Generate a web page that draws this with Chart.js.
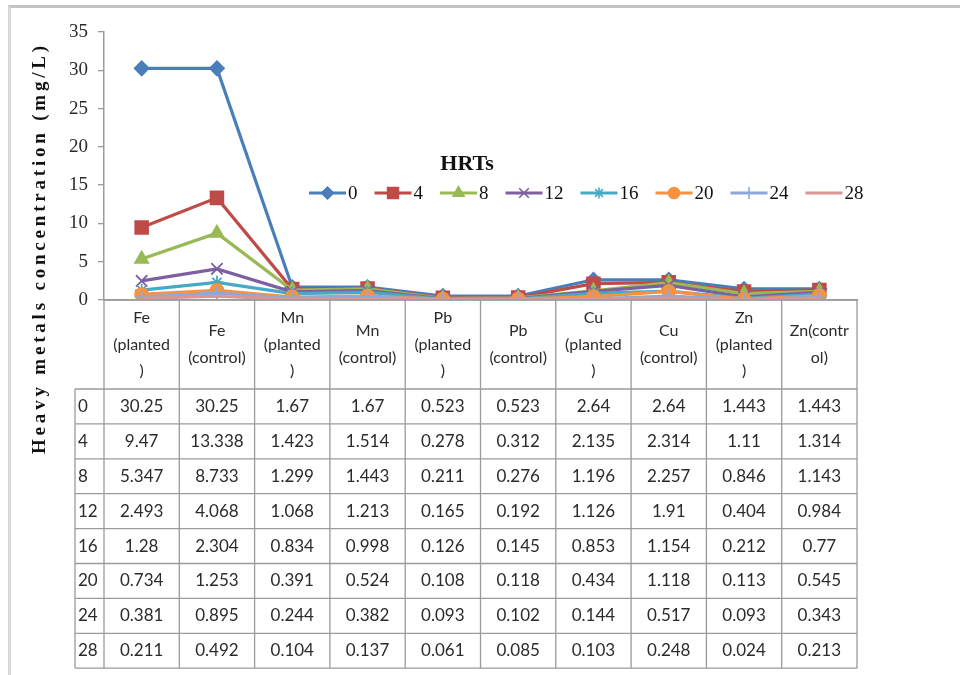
<!DOCTYPE html>
<html>
<head>
<meta charset="utf-8">
<script src="https://cdn.jsdelivr.net/npm/chart.js@4.4.0/dist/chart.umd.min.js"></script>
<style>
  html, body { margin: 0; padding: 0; background: #fff; }
  #wrap  { position: relative; width: 960px; height: 675px; overflow: hidden; }
  #frame { position: absolute; left: 8px; top: 5px; right: -10px; bottom: -10px;
           border-top: 3px solid #c4c4c4; border-left: 3px solid #d8d8d8; }
  canvas { position: absolute; left: 0; top: 0; }
</style>
</head>
<body>
<div id="wrap">
  <div id="frame"></div>
  <canvas id="chart" width="960" height="675"></canvas>
</div>
<script>
// categories (header cells of the data table, already wrapped like the original)
const CATEGORIES = [
  ['Fe', '(planted', ')'], ['Fe', '(control)'],
  ['Mn', '(planted', ')'], ['Mn', '(control)'],
  ['Pb', '(planted', ')'], ['Pb', '(control)'],
  ['Cu', '(planted', ')'], ['Cu', '(control)'],
  ['Zn', '(planted', ')'], ['Zn(contr', 'ol)'],
];
const HRT_LABELS = ['0', '4', '8', '12', '16', '20', '24', '28'];

const HRT_0  = [30.25, 30.25, 1.67, 1.67, 0.523, 0.523, 2.64, 2.64, 1.443, 1.443];
const HRT_4  = [9.47, 13.338, 1.423, 1.514, 0.278, 0.312, 2.135, 2.314, 1.11, 1.314];
const HRT_8  = [5.347, 8.733, 1.299, 1.443, 0.211, 0.276, 1.196, 2.257, 0.846, 1.143];
const HRT_12 = [2.493, 4.068, 1.068, 1.213, 0.165, 0.192, 1.126, 1.91, 0.404, 0.984];
const HRT_16 = [1.28, 2.304, 0.834, 0.998, 0.126, 0.145, 0.853, 1.154, 0.212, 0.77];
const HRT_20 = [0.734, 1.253, 0.391, 0.524, 0.108, 0.118, 0.434, 1.118, 0.113, 0.545];
const HRT_24 = [0.381, 0.895, 0.244, 0.382, 0.093, 0.102, 0.144, 0.517, 0.093, 0.343];
const HRT_28 = [0.211, 0.492, 0.104, 0.137, 0.061, 0.085, 0.103, 0.248, 0.024, 0.213];

const Y_MIN = 0, Y_MAX = 35, Y_STEP = 5;

const SERIES  = [HRT_0, HRT_4, HRT_8, HRT_12, HRT_16, HRT_20, HRT_24, HRT_28];
const COLORS  = ['#4A7EBB', '#BE4B48', '#98B954', '#7D60A0', '#46AAC5', '#F69240', '#8FA8DC', '#DA9694'];
const MARKERS = ['rectRot', 'rect', 'triangle', 'crossRot', 'star', 'circle', 'cross', false];
const RADII   = [7, 9, 7.5, 8, 6.5, 6.5, 7, 0];

const SERIF = "'Liberation Serif', 'Times New Roman', serif";
const TABLE_FONT = "Lato, 'Liberation Sans', sans-serif";
const TEXT = '#2b2b2b';
const LINE = '#9a9a9a';

// data table under the plot, columns follow the category scale
const tablePlugin = {
  id: 'dataTable',
  afterDraw(chart) {
    const { ctx, chartArea } = chart;
    const x = chart.scales.x;
    const colW = x.getPixelForValue(1) - x.getPixelForValue(0);
    const edge = i => x.getPixelForValue(0) - colW / 2 + i * colW;
    const top = chartArea.bottom;
    const headBottom = 389;
    const rowH = 34.9;
    const bottom = headBottom + rowH * HRT_LABELS.length;
    const labelLeft = 75;

    ctx.save();
    ctx.strokeStyle = LINE;
    ctx.lineWidth = 1.3;
    ctx.beginPath();
    for (let i = 0; i <= CATEGORIES.length; i++) {
      ctx.moveTo(edge(i), top);
      ctx.lineTo(edge(i), bottom);
    }
    ctx.moveTo(labelLeft, headBottom);
    ctx.lineTo(labelLeft, bottom);
    ctx.moveTo(edge(0), top);
    ctx.lineTo(edge(CATEGORIES.length), top);
    for (let r = 0; r <= HRT_LABELS.length; r++) {
      const y = headBottom + r * rowH;
      ctx.moveTo(labelLeft, y);
      ctx.lineTo(edge(CATEGORIES.length), y);
    }
    ctx.stroke();

    ctx.fillStyle = TEXT;
    ctx.font = '16px ' + TABLE_FONT;
    ctx.textBaseline = 'middle';
    ctx.textAlign = 'center';
    const headMid = (top + headBottom) / 2;
    const lh = 26.5;
    CATEGORIES.forEach((lines, i) => {
      const cx = x.getPixelForValue(i);
      lines.forEach((t, k) => {
        ctx.fillText(t, cx, headMid + (k - (lines.length - 1) / 2) * lh);
      });
    });

    ctx.font = '17px ' + TABLE_FONT;
    SERIES.forEach((vals, r) => {
      const cy = headBottom + (r + 0.5) * rowH;
      ctx.textAlign = 'left';
      ctx.fillText(HRT_LABELS[r], labelLeft + 3, cy);
      ctx.textAlign = 'center';
      vals.forEach((v, c) => ctx.fillText(String(v), x.getPixelForValue(c), cy));
    });
    ctx.restore();
  },
};

// legend with line + marker samples, and the rotated axis title
const decorPlugin = {
  id: 'decor',
  afterDraw(chart) {
    const { ctx } = chart;
    ctx.save();

    ctx.fillStyle = '#111';
    ctx.font = 'bold 22px ' + SERIF;
    ctx.textAlign = 'center';
    ctx.textBaseline = 'middle';
    ctx.fillText('HRTs', 467, 164);

    ctx.font = '19px ' + SERIF;
    ctx.textAlign = 'left';
    let lx = 309;
    const ly = 193;
    chart.data.datasets.forEach((ds, i) => {
      ctx.strokeStyle = ds.borderColor;
      ctx.lineWidth = 3.2;
      ctx.beginPath();
      ctx.moveTo(lx, ly);
      ctx.lineTo(lx + 37, ly);
      ctx.stroke();
      if (ds.pointStyle) {
        ctx.fillStyle = ds.borderColor;
        ctx.strokeStyle = ds.borderColor;
        ctx.lineWidth = 1.6;
        Chart.helpers.drawPoint(ctx, {
          pointStyle: ds.pointStyle, radius: ds.pointRadius * 0.85, rotation: 0, borderWidth: 1.6,
        }, lx + 18.5, ly);
      }
      ctx.fillStyle = '#111';
      ctx.fillText(ds.label, lx + 39, ly + 1);
      lx += 39 + ctx.measureText(ds.label).width + 17;
    });

    ctx.translate(40, 248);
    ctx.rotate(-Math.PI / 2);
    ctx.font = 'bold 19px ' + SERIF;
    ctx.letterSpacing = '3.8px';
    ctx.textAlign = 'center';
    ctx.fillStyle = '#111';
    ctx.fillText('Heavy metals concentration (mg/L)', 0, 0);
    ctx.restore();
  },
};

new Chart(document.getElementById('chart'), {
  type: 'line',
  data: {
    labels: CATEGORIES,
    datasets: SERIES.map((vals, i) => ({
      label: HRT_LABELS[i],
      data: vals,
      borderColor: COLORS[i],
      backgroundColor: COLORS[i],
      pointBackgroundColor: COLORS[i],
      pointBorderColor: COLORS[i],
      pointStyle: MARKERS[i],
      pointRadius: RADII[i],
      pointBorderWidth: 1.8,
      borderWidth: 3.2,
      tension: 0,
      fill: false,
      order: SERIES.length - i,
    })),
  },
  options: {
    responsive: false,
    animation: false,
    events: [],
    layout: { padding: { left: 0, top: 32, right: 103, bottom: 375 } },
    plugins: { legend: { display: false }, tooltip: { enabled: false } },
    scales: {
      x: {
        offset: true,
        grid: { display: false },
        border: { display: true, color: LINE, width: 1.5 },
        ticks: { display: false },
        afterFit(scale) { scale.height = 0; },
      },
      y: {
        min: Y_MIN, max: Y_MAX,
        grid: { drawOnChartArea: false, drawTicks: true, tickLength: 6, color: LINE, lineWidth: 1.3 },
        border: { display: true, color: LINE, width: 1.5 },
        ticks: { stepSize: Y_STEP, padding: 10, color: TEXT, font: { family: SERIF, size: 19 } },
        afterFit(scale) { scale.width = 104; },
      },
    },
  },
  plugins: [tablePlugin, decorPlugin],
});
</script>
</body>
</html>
